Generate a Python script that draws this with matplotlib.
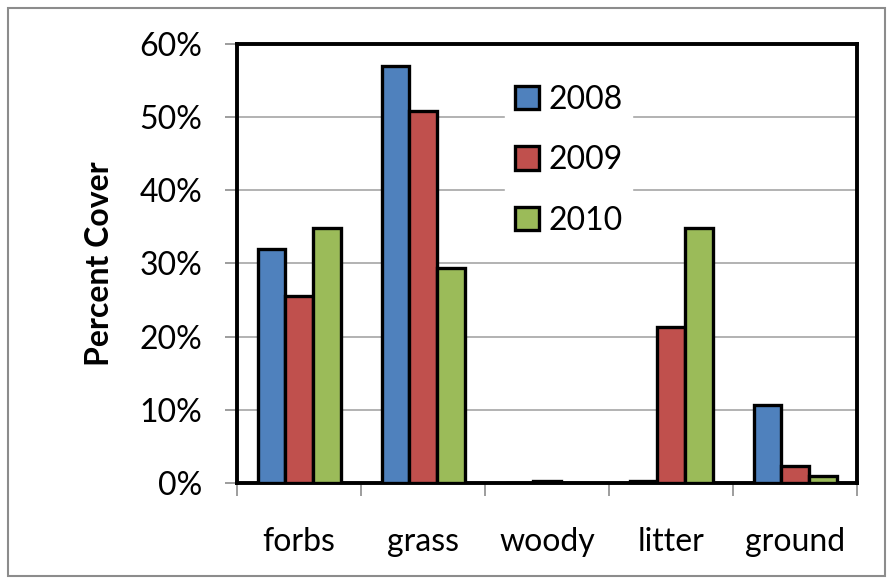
import matplotlib
matplotlib.use("Agg")
import matplotlib.pyplot as plt
import numpy as np
from matplotlib.patches import Rectangle
from matplotlib.ticker import PercentFormatter

categories = ["forbs", "grass", "woody", "litter", "ground"]
years = ["2008", "2009", "2010"]
cover_2008 = [32.0, 57.0, 0.0, 0.2, 10.6]
cover_2009 = [25.5, 50.8, 0.2, 21.3, 2.3]
cover_2010 = [34.8, 29.4, 0.0, 34.8, 1.0]
colors = ["#4F81BD", "#C0504D", "#9BBB59"]

plt.rcParams["font.family"] = ["Lato", "DejaVu Sans"]

fig = plt.figure(figsize=(8.91, 5.79), dpi=100)
ax = fig.add_axes([0.266, 0.166, 0.696, 0.758])

# thin grey frame round the whole chart
fig.patches.append(Rectangle((0.009, 0.006), 0.984, 0.98, transform=fig.transFigure,
                             fill=False, edgecolor="#8c8c8c", linewidth=1.5))

x = np.arange(len(categories))
width = 0.223
for i, (vals, year) in enumerate(zip([cover_2008, cover_2009, cover_2010], years)):
    ax.bar(x + (i - 1) * width, vals, width, color=colors[i], edgecolor="black",
           linewidth=2.4, label=year, zorder=3)

ax.set_xlim(-0.5, len(categories) - 0.5)
ax.set_ylim(0, 60)
ax.set_yticks(np.arange(0, 61, 10))
ax.yaxis.set_major_formatter(PercentFormatter(decimals=0))
ax.grid(axis="y", color="#a6a6a6", linewidth=1.2, zorder=0)

# category labels sit between boundary ticks
ax.set_xticks(np.arange(-0.5, len(categories), 1.0))
ax.set_xticklabels([])
ax.set_xticks(x, minor=True)
ax.set_xticklabels(categories, minor=True, fontsize=23)
ax.tick_params(axis="x", which="minor", length=0, pad=32)
ax.tick_params(axis="x", which="major", length=9, width=1.2, color="#8c8c8c")
ax.tick_params(axis="y", length=9, width=1.2, color="#8c8c8c", labelsize=23, pad=16)

for sp in ax.spines.values():
    sp.set_linewidth(2.8)
    sp.set_color("black")

ax.set_ylabel("Percent Cover", fontsize=23, fontweight="bold", labelpad=18)

leg = ax.legend(loc="upper left", bbox_to_anchor=(0.407, 0.965), fontsize=23,
                frameon=True, framealpha=1, edgecolor="white", fancybox=False,
                handlelength=0.75, handleheight=0.75, handletextpad=0.3,
                labelspacing=0.95, borderpad=0.3)
for h in leg.legend_handles:
    h.set_linewidth(2.4)

fig.savefig("out.png", dpi=100)
